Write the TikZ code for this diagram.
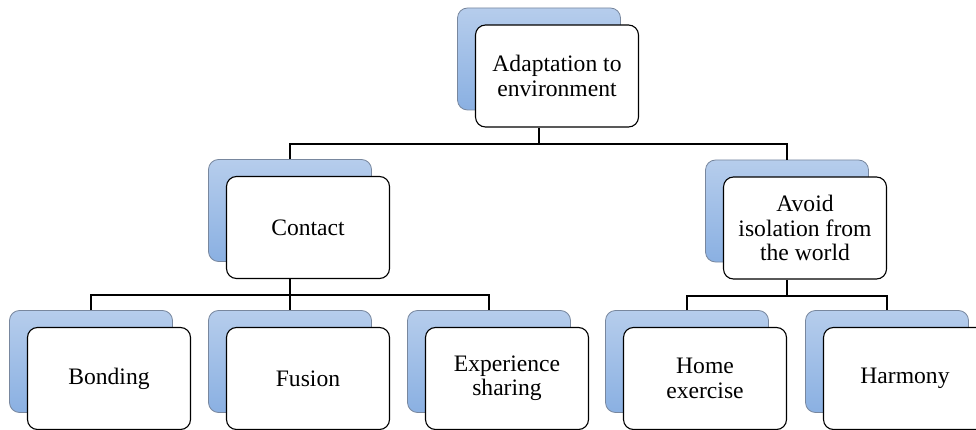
\documentclass[tikz,border=0pt]{standalone}
\usepackage{fontspec}
\setmainfont{Liberation Serif}
\definecolor{backtop}{RGB}{182,205,236}
\definecolor{backbot}{RGB}{138,176,226}
\definecolor{backline}{RGB}{120,135,158}

\begin{document}
\begin{tikzpicture}[x=1pt,y=-1pt,
  backbox/.style={rectangle, rounded corners=10pt, minimum width=163pt, minimum height=102pt,
    draw=backline, line width=0.8pt, top color=backtop, bottom color=backbot},
  frontbox/.style={rectangle, rounded corners=10pt, minimum width=163pt, minimum height=102pt,
    draw=black, line width=1.1pt, fill=white, align=center, font=\fontsize{23.6}{24.3}\selectfont},
  conn/.style={line width=2pt}]
\useasboundingbox (0,0) rectangle (976,430);
\clip (0,0) rectangle (976,430);

% top level
\node[backbox] (adaptbk) at (539,59) {};
\node[frontbox] (adapt) at ([shift={(18,17)}]adaptbk.center) {Adaptation to\\environment};

% middle level
\node[backbox] (contactbk) at (290,210.5) {};
\node[frontbox] (contact) at ([shift={(18,17)}]contactbk.center) {Contact};
\node[backbox] (avoidbk) at (787,211) {};
\node[frontbox] (avoid) at ([shift={(18,17)}]avoidbk.center) {Avoid\\isolation from\\the world};

% bottom level
\foreach \x/\nm/\txt in {91/bond/Bonding, 290/fusion/Fusion, 489/exper/{Experience\\sharing},
    687/home/{Home\\exercise}, 887/harm/Harmony} {
  \node[backbox] (\nm bk) at (\x,361.5) {};
  \node[frontbox] (\nm) at ([shift={(18,17)}]\nm bk.center) {\txt};
}

% connectors
\draw[conn] (adaptbk |- adapt.south) -- ++(0,16) coordinate (bus1);
\draw[conn] (contactbk.north) |- (bus1) -| (avoidbk.north);
\draw[conn] (contactbk |- contact.south) -- ++(0,16) coordinate (bus2);
\draw[conn] (bondbk.north) |- (bus2) -| (experbk.north);
\draw[conn] (bus2) -- (fusionbk.north);
\draw[conn] (avoidbk |- avoid.south) -- ++(0,16) coordinate (bus3);
\draw[conn] (homebk.north) |- (bus3) -| (harmbk.north);
\end{tikzpicture}
\end{document}
